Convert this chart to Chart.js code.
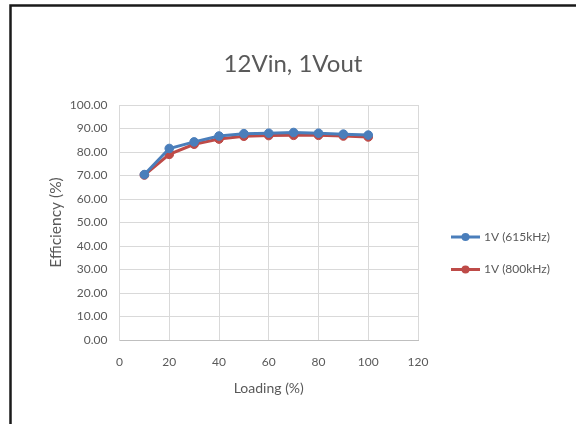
<!DOCTYPE html>
<html>
<head>
<meta charset="utf-8">
<title>12Vin, 1Vout</title>
<script src="https://cdn.jsdelivr.net/npm/chart.js@4.4.1/dist/chart.umd.min.js"></script>
<style>
  html, body { margin: 0; padding: 0; background: #ffffff; }
  #wrap { width: 576px; height: 424px; }
</style>
</head>
<body>
<div id="wrap"><canvas id="eff"></canvas></div>
<script>
// Efficiency vs. load, 12 V in / 1 V out, two switching frequencies
const chartTitle = '12Vin, 1Vout';
const loading = [10, 20, 30, 40, 50, 60, 70, 80, 90, 100];
const eff615k = [70.4, 81.5, 84.3, 86.8, 87.8, 88.0, 88.3, 88.0, 87.6, 87.2];
const eff800k = [70.2, 79.0, 83.3, 85.5, 86.7, 87.0, 87.1, 87.1, 86.8, 86.4];
const seriesNames = ['1V (615kHz)', '1V (800kHz)'];
const seriesColors = ['#4A7EBB', '#BE4B48'];
const xTitle = 'Loading (%)';
const yTitle = 'Efficiency (%)';

const textColor = '#595959';
const fontFamily = 'Lato, "Open Sans", sans-serif';

function toPoints(xs, ys) {
  return xs.map((x, i) => ({ x: x, y: ys[i] }));
}

// Page frame, title and the right-hand legend
const framePlugin = {
  id: 'frame',
  beforeDraw(chart) {
    const ctx = chart.ctx;
    ctx.save();
    ctx.fillStyle = '#ffffff';
    ctx.fillRect(0, 0, chart.width, chart.height);
    ctx.strokeStyle = '#1a1a1a';
    ctx.lineWidth = 2.5;
    ctx.beginPath();
    ctx.moveTo(10.5, chart.height);
    ctx.lineTo(10.5, 5.5);
    ctx.lineTo(chart.width, 5.5);
    ctx.stroke();
    ctx.restore();
  },
  afterDraw(chart) {
    const ctx = chart.ctx;
    ctx.save();
    ctx.fillStyle = textColor;
    ctx.font = '24px ' + fontFamily;
    ctx.textAlign = 'center';
    ctx.textBaseline = 'alphabetic';
    ctx.fillText(chartTitle, 293, 72);

    chart.data.datasets.forEach((ds, i) => {
      const y = 237 + i * 32.5;
      ctx.strokeStyle = ds.borderColor;
      ctx.lineWidth = 3;
      ctx.beginPath();
      ctx.moveTo(451, y);
      ctx.lineTo(480, y);
      ctx.stroke();
      ctx.fillStyle = ds.borderColor;
      ctx.beginPath();
      ctx.arc(465.5, y, 4, 0, Math.PI * 2);
      ctx.fill();
      ctx.fillStyle = textColor;
      ctx.font = '12px ' + fontFamily;
      ctx.textAlign = 'left';
      ctx.textBaseline = 'middle';
      ctx.fillText(ds.label, 484, y);
    });
    ctx.restore();
  }
};

new Chart(document.getElementById('eff'), {
  type: 'line',
  data: {
    datasets: [
      {
        label: seriesNames[0],
        data: toPoints(loading, eff615k),
        borderColor: seriesColors[0],
        backgroundColor: seriesColors[0],
        borderWidth: 3,
        pointRadius: 4.3,
        pointHoverRadius: 4.3,
        pointBorderWidth: 1
      },
      {
        label: seriesNames[1],
        data: toPoints(loading, eff800k),
        borderColor: seriesColors[1],
        backgroundColor: seriesColors[1],
        borderWidth: 3,
        pointRadius: 4.3,
        pointHoverRadius: 4.3,
        pointBorderWidth: 1
      }
    ]
  },
  options: {
    responsive: true,
    maintainAspectRatio: false,
    animation: false,
    devicePixelRatio: 1,
    layout: { padding: { left: 0, right: 158, top: 105, bottom: 0 } },
    plugins: {
      legend: { display: false },
      title: { display: false },
      tooltip: { enabled: false }
    },
    scales: {
      x: {
        type: 'linear',
        min: 0,
        max: 120,
        afterFit(scale) { scale.height = 84; },
        ticks: {
          stepSize: 20,
          padding: 15,
          color: textColor,
          font: { family: fontFamily, size: 12 }
        },
        grid: { color: '#d9d9d9', lineWidth: 1, drawTicks: false },
        border: { color: '#bfbfbf', width: 1 },
        title: {
          display: true,
          text: xTitle,
          color: textColor,
          font: { family: fontFamily, size: 14 },
          padding: { top: 0, bottom: 27.6 }
        }
      },
      y: {
        min: 0,
        max: 100,
        afterFit(scale) { scale.width = 119.5; },
        ticks: {
          stepSize: 10,
          padding: 12,
          color: textColor,
          font: { family: fontFamily, size: 12 },
          callback: (v) => Number(v).toFixed(2)
        },
        grid: { color: '#d9d9d9', lineWidth: 1, drawTicks: false },
        border: { color: '#d9d9d9', width: 1 },
        title: {
          display: true,
          text: yTitle,
          color: textColor,
          font: { family: fontFamily, size: 15.5 },
          padding: { top: 47, bottom: 0 }
        }
      }
    }
  },
  plugins: [framePlugin]
});
</script>
</body>
</html>
